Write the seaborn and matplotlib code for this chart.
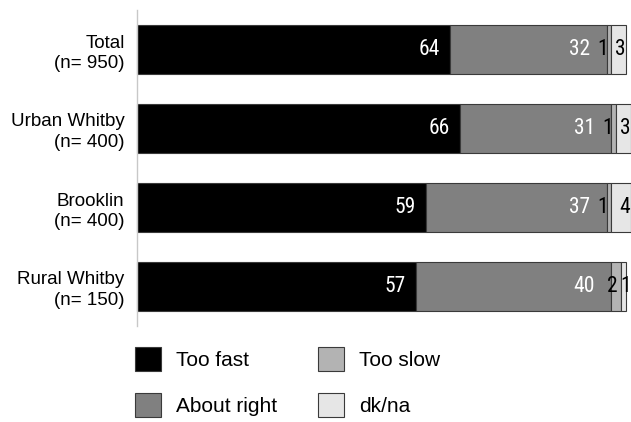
import matplotlib
matplotlib.use("Agg")
import matplotlib.pyplot as plt
from matplotlib import font_manager
from matplotlib.patches import Patch
import seaborn as sns
import numpy as np
import pandas as pd

# Survey results (percent) by area
groups = ["Total\n(n= 950)", "Urban Whitby\n(n= 400)", "Brooklin\n(n= 400)", "Rural Whitby\n(n= 150)"]
series = ["Too fast", "About right", "Too slow", "dk/na"]
too_fast = [64, 66, 59, 57]
about_right = [32, 31, 37, 40]
too_slow = [1, 1, 1, 2]
dk_na = [3, 3, 4, 1]

colors = ["#000000", "#808080", "#b3b3b3", "#e6e6e6"]
label_colors = ["white", "white", "black", "black"]
# distance (points) from the right end of each segment to its label
label_pad = [7, 12, 2.5, 0.7]

sns.set_theme(style="white")
plt.rcParams["font.family"] = ["Liberation Sans", "DejaVu Sans"]
plt.rcParams["text.color"] = "black"
plt.rcParams["ytick.color"] = "black"

# narrow face for the value labels, when one is installed
installed = {f.name for f in font_manager.fontManager.ttflist}
narrow = None
for cand in ["Liberation Sans Narrow", "Arial Narrow", "Roboto Condensed",
             "Open Sans Condensed", "DejaVu Sans Condensed", "Noto Sans Condensed"]:
    if cand in installed:
        narrow = cand
        break
num_font = dict(family=[narrow, "DejaVu Sans"], fontsize=15.5) if narrow else \
    dict(family=["DejaVu Sans"], fontstretch="condensed", fontsize=14)

df = pd.DataFrame({"group": groups, "Too fast": too_fast, "About right": about_right,
                   "Too slow": too_slow, "dk/na": dk_na})

fig = plt.figure(figsize=(6.31, 4.22), dpi=100)
ax = fig.add_axes([137 / 631, 1 - 326 / 422, 494 / 631, 316 / 422])

ypos = np.arange(len(groups))
left = np.zeros(len(groups))
labels_by_row = {y: [] for y in ypos}
for name, col, tcol, pad in zip(series, colors, label_colors, label_pad):
    vals = df[name].to_numpy(dtype=float)
    ax.barh(ypos, vals, left=left, height=0.63, color=col, edgecolor="#3a3a3a",
            linewidth=0.8, clip_on=False)
    for y, l, v in zip(ypos, left, vals):
        t = ax.annotate(f"{int(v)}", xy=(l + v, y), xytext=(-pad, 0),
                        textcoords="offset points", ha="right", va="center",
                        color=tcol, annotation_clip=False, **num_font)
        labels_by_row[y].append(t)
    left += vals

ax.set_xlim(0, 101)
ax.set_ylim(len(groups) - 0.5, -0.5)
ax.set_yticks(ypos)
ax.set_yticklabels(groups, fontsize=13.5, ha="right", linespacing=1.28, color="black")
ax.tick_params(axis="y", length=0, pad=9)
ax.set_xticks([])
for side in ["top", "right", "bottom"]:
    ax.spines[side].set_visible(False)
ax.spines["left"].set_color("#c8c8c8")
ax.spines["left"].set_linewidth(1.0)
ax.set_xlabel("")
ax.set_ylabel("")

# keep neighbouring value labels from running into each other
fig.canvas.draw()
renderer = fig.canvas.get_renderer()
for y, texts in labels_by_row.items():
    for prev, cur in zip(texts[:-1], texts[1:]):
        pb = prev.get_window_extent(renderer)
        cb = cur.get_window_extent(renderer)
        overlap = pb.x1 + 3 - cb.x0
        if overlap > 0:
            ox, oy = cur.xyann
            cur.xyann = (ox + overlap * 72 / fig.dpi, oy)

handles = [Patch(facecolor=c, edgecolor="#3a3a3a", linewidth=0.8) for c in colors]
fig.legend(handles, series, loc="upper left", bbox_to_anchor=(135 / 631, 1 - 347 / 422),
           ncol=2, frameon=False, fontsize=15, handlelength=1.25, handleheight=1.36,
           handletextpad=0.7, labelspacing=1.1, columnspacing=2.0, borderpad=0,
           borderaxespad=0, labelcolor="black")

fig.savefig("out.png", dpi=100)
